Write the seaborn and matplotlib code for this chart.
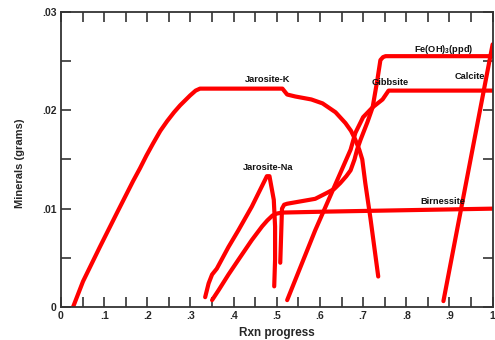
import matplotlib
matplotlib.use("Agg")
import matplotlib.pyplot as plt
import matplotlib.ticker as mticker
import seaborn as sns

# ---------------------------------------------------------------------------
# Data (reaction progress vs. minerals, grams)
# ---------------------------------------------------------------------------
jarosite_k_x = [0.028, 0.051, 0.090, 0.130, 0.167, 0.183, 0.198, 0.213, 0.230, 0.246,
                0.262, 0.276, 0.299, 0.312, 0.322, 0.40, 0.513, 0.524, 0.543, 0.580,
                0.606, 0.636, 0.659, 0.672, 0.682, 0.691, 0.698, 0.705, 0.717, 0.735]
jarosite_k_y = [0.0, 0.0026, 0.0061, 0.0096, 0.0128, 0.0141, 0.0154, 0.0166, 0.0179, 0.0189,
                0.0198, 0.0205, 0.0215, 0.0220, 0.0222, 0.0222, 0.0222, 0.0216, 0.0214, 0.0211,
                0.0207, 0.0198, 0.0187, 0.0179, 0.0170, 0.0160, 0.0150, 0.0126, 0.0090, 0.0031]

jarosite_na_x = [0.334, 0.342, 0.350, 0.361, 0.388, 0.411, 0.442, 0.477, 0.483,
                 0.493, 0.496, 0.496, 0.494]
jarosite_na_y = [0.0010, 0.0024, 0.0033, 0.0039, 0.0061, 0.0078, 0.0102, 0.0133, 0.0133,
                 0.0109, 0.0082, 0.0048, 0.0021]

birnessite_x = [0.350, 0.365, 0.388, 0.411, 0.442, 0.466, 0.478, 0.490, 0.500, 0.512,
                0.617, 1.0]
birnessite_y = [0.0007, 0.0017, 0.0033, 0.0048, 0.0068, 0.0082, 0.0088, 0.0093, 0.0095,
                0.0096, 0.0097, 0.0100]

fe_oh3_x = [0.508, 0.512, 0.517, 0.524, 0.589, 0.616, 0.633, 0.647, 0.661, 0.671, 0.680,
            0.686, 0.694, 0.710, 0.722, 0.733, 0.740, 0.746, 0.752, 1.0]
fe_oh3_y = [0.0045, 0.0100, 0.0104, 0.0105, 0.0110, 0.0116, 0.0120, 0.0126, 0.0133, 0.0139,
            0.0150, 0.0160, 0.0170, 0.0188, 0.0203, 0.0231, 0.0251, 0.0254, 0.0255, 0.0255]

gibbsite_x = [0.524, 0.589, 0.671, 0.682, 0.700, 0.722, 0.745, 0.759, 1.0]
gibbsite_y = [0.0007, 0.0078, 0.0160, 0.0177, 0.0193, 0.0203, 0.0211, 0.0220, 0.0220]

calcite_x = [0.886, 1.0]
calcite_y = [0.0006, 0.0267]

curves = [
    (jarosite_k_x, jarosite_k_y),
    (jarosite_na_x, jarosite_na_y),
    (birnessite_x, birnessite_y),
    (fe_oh3_x, fe_oh3_y),
    (gibbsite_x, gibbsite_y),
    (calcite_x, calcite_y),
]

# label text, x, y
labels = [
    ("Jarosite-K", 0.478, 0.0231),
    ("Jarosite-Na", 0.479, 0.0142),
    ("Gibbsite", 0.763, 0.0228),
    ("Fe(OH)$_3$(ppd)", 0.886, 0.0262),
    ("Calcite", 0.947, 0.0234),
    ("Birnessite", 0.884, 0.0107),
]

# ---------------------------------------------------------------------------
sns.set_theme(style="ticks")
plt.rcParams["font.family"] = ["Liberation Sans", "DejaVu Sans"]
plt.rcParams["mathtext.fontset"] = "custom"
plt.rcParams["mathtext.rm"] = "Liberation Sans:bold"
plt.rcParams["mathtext.default"] = "regular"

fig = plt.figure(figsize=(4.95, 3.4), dpi=100)
ax = fig.add_axes([0.1232, 0.097, 0.872, 0.868])

for cx, cy in curves:
    sns.lineplot(x=cx, y=cy, ax=ax, sort=False, estimator=None,
                 color="#ff0000", linewidth=3.0, solid_capstyle="round",
                 solid_joinstyle="round", clip_on=True)

for txt, tx, ty in labels:
    ax.text(tx, ty, txt, ha="center", va="center", fontsize=6.7,
            fontweight="bold", color="#111111")

ax.set_xlim(0, 1.0)
ax.set_ylim(0, 0.03)

ax.xaxis.set_major_locator(mticker.MultipleLocator(0.05))
ax.yaxis.set_major_locator(mticker.MultipleLocator(0.005))


def fmt_x(v, pos):
    k = round(v * 20)
    if k % 2:
        return ""
    if k == 0:
        return "0"
    if k == 20:
        return "1"
    return "." + str(k // 2)


def fmt_y(v, pos):
    k = round(v * 200)
    if k % 2:
        return ""
    if k == 0:
        return "0"
    return ".0" + str(k // 2)


ax.xaxis.set_major_formatter(mticker.FuncFormatter(fmt_x))
ax.yaxis.set_major_formatter(mticker.FuncFormatter(fmt_y))
ax.tick_params(direction="in", length=7, width=1.2, color="#333333",
               top=True, right=True, labelsize=7.5, pad=3)
for lab in ax.get_xticklabels() + ax.get_yticklabels():
    lab.set_fontweight("bold")

for s in ax.spines.values():
    s.set_linewidth(1.3)
    s.set_color("#333333")

ax.set_xlabel("Rxn progress", fontsize=8.5, fontweight="bold", labelpad=4.5)
ax.set_ylabel("Minerals (grams)", fontsize=8, fontweight="bold")
ax.yaxis.set_label_coords(-0.084, 0.488)

fig.savefig("out.png", dpi=100)
plt.close(fig)
